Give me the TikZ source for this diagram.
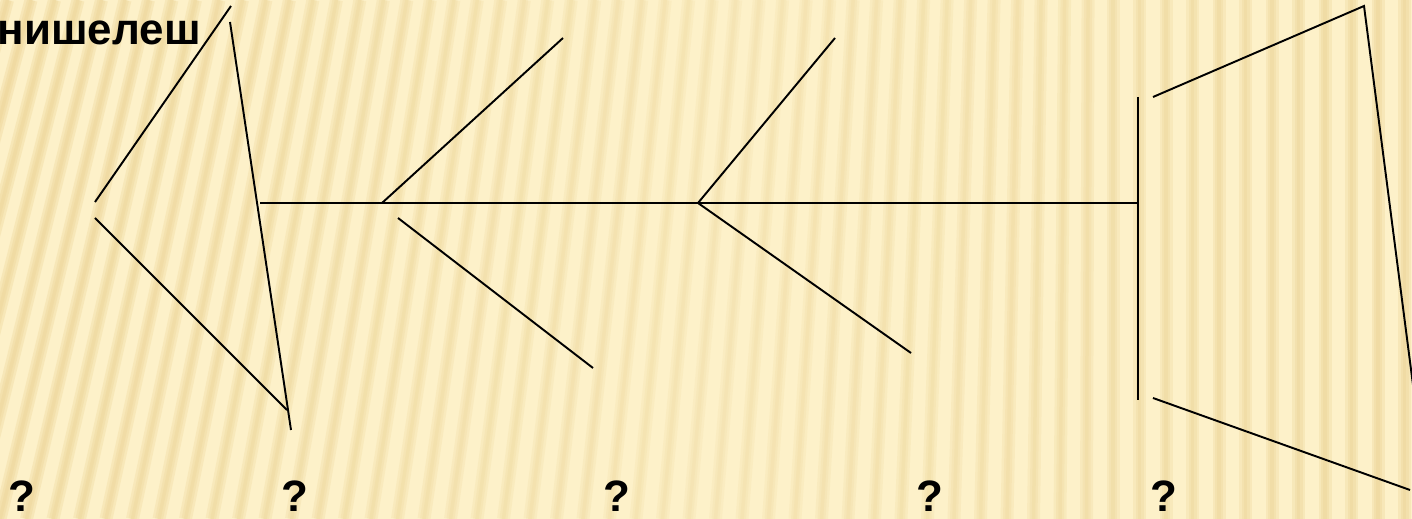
\documentclass[tikz,border=0pt]{standalone}
\usepackage{fontspec}
\setmainfont{Liberation Sans}
\begin{document}
\begin{tikzpicture}[x=0.02cm,y=-0.02cm,
  ln/.style={line width=1.1pt,black},
  lbl/.style={font=\fontsize{25}{30}\selectfont\bfseries,inner sep=0pt,text=black},
  stripeA/.style={line width=0.26cm,color=stripec},
  stripeB/.style={line width=0.16cm,color=stripec},
  stripeC/.style={line width=0.07cm,color=stripec}]
\definecolor{bgc}{HTML}{FDF1C9}
\definecolor{stripec}{HTML}{EBD292}
\useasboundingbox (0,0) rectangle (1412,519);
\fill[bgc] (0,0) rectangle (1412,519);
\begin{scope}
\clip (0,0) rectangle (1412,519);
\foreach \i in {-6,...,54}{
  \pgfmathsetmacro{\xx}{\i*26.5}
  \pgfmathsetmacro{\ss}{max(0,125*(1-\xx/1100))}
  \pgfmathsetmacro{\op}{0.14+0.16*abs(\xx-700)/700}
  \draw[stripeA,opacity=\op] (\xx,519) -- (\xx+\ss,0);
  \draw[stripeB,opacity=\op] (\xx,519) -- (\xx+\ss,0);
  \draw[stripeC,opacity=\op] (\xx,519) -- (\xx+\ss,0);
}
\end{scope}
% coordinates
\coordinate (t1) at (95,202);
\coordinate (t2) at (231,6);
\coordinate (t3) at (230,22);
\coordinate (t4) at (291,430);
\coordinate (t5) at (95,218);
\coordinate (t6) at (287,410);
\coordinate (s1) at (260,203);
\coordinate (s2) at (1138,203);
\coordinate (a1) at (382,203);
\coordinate (a2) at (563,38);
\coordinate (a3) at (398,218);
\coordinate (a4) at (593,368);
\coordinate (b1) at (698,203);
\coordinate (b2) at (835,38);
\coordinate (b3) at (911,353);
\coordinate (v1) at (1138,97);
\coordinate (v2) at (1138,400);
\coordinate (h1) at (1153,97);
\coordinate (h2) at (1364,6);
\coordinate (h3) at (1413,385);
\coordinate (h4) at (1153,398);
\coordinate (h5) at (1410,490);
% lines
\draw[ln] (t1) -- (t2);
\draw[ln] (t3) -- (t4);
\draw[ln] (t5) -- (t6);
\draw[ln] (s1) -- (s2);
\draw[ln] (a1) -- (a2);
\draw[ln] (a3) -- (a4);
\draw[ln] (b1) -- (b2);
\draw[ln] (b1) -- (b3);
\draw[ln] (v1) -- (v2);
\draw[ln] (h1) -- (h2) -- (h3);
\draw[ln] (h4) -- (h5);
% texts
\node[lbl,anchor=base east] (title) at (201,45) {нишелеш};
\node[lbl,anchor=base] (q1) at (22,512) {?};
\node[lbl,anchor=base] (q2) at (295,512) {?};
\node[lbl,anchor=base] (q3) at (617,512) {?};
\node[lbl,anchor=base] (q4) at (930,512) {?};
\node[lbl,anchor=base] (q5) at (1164,512) {?};
\end{tikzpicture}
\end{document}
